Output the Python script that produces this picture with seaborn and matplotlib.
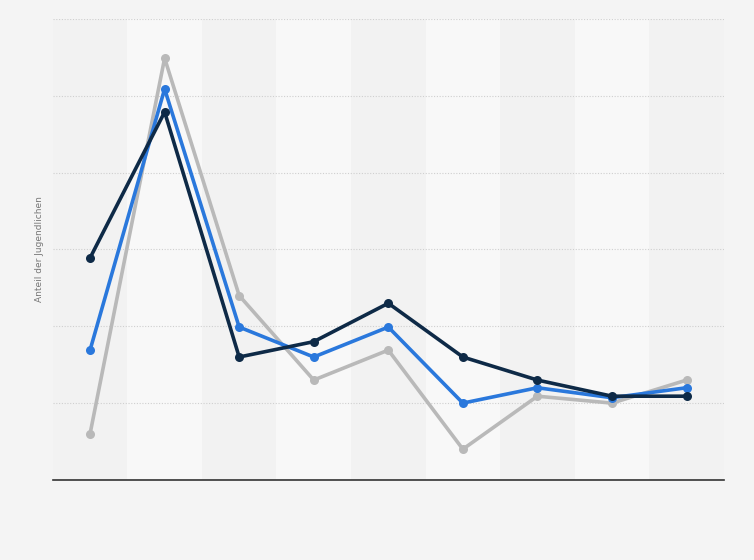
import matplotlib
matplotlib.use("Agg")
import matplotlib.pyplot as plt
import seaborn as sns
import pandas as pd

# category positions (no labels shown in the chart)
categories = list(range(9))

# values (grid unit = 1)
series_navy = [2.89, 4.79, 1.60, 1.80, 2.30, 1.60, 1.30, 1.09, 1.09]
series_blue = [1.69, 5.09, 1.99, 1.60, 1.99, 1.00, 1.20, 1.07, 1.20]
series_gray = [0.60, 5.49, 2.40, 1.30, 1.69, 0.40, 1.09, 1.00, 1.30]

series_names = ["A", "B", "C"]
palette = {"A": "#0e2a47", "B": "#2a78dc", "C": "#b9b9b9"}

y_label = "Anteil der Jugendlichen"
y_ticks = [1, 2, 3, 4, 5, 6]

rows = []
for name, vals in zip(series_names, [series_navy, series_blue, series_gray]):
    for c, v in zip(categories, vals):
        rows.append({"cat": c, "value": v, "series": name})
df = pd.DataFrame(rows)

sns.set_style("white")
fig = plt.figure(figsize=(7.54, 5.6), dpi=100, facecolor="#f4f4f4")
ax = fig.add_axes([0.070, 0.143, 0.890, 0.823])
ax.set_facecolor("#f2f2f2")

# alternating column bands
for c in categories:
    if c % 2 == 1:
        ax.axvspan(c - 0.5, c + 0.5, color="#f8f8f8", zorder=0, lw=0)

for y in y_ticks:
    ax.axhline(y, color="#cfcfcf", lw=0.8, ls=(0, (1, 1.5)), zorder=1)

sns.lineplot(data=df, x="cat", y="value", hue="series", hue_order=["C", "B", "A"],
             palette=palette, marker="o", markersize=6.5, markeredgewidth=0,
             linewidth=2.6, legend=False, ax=ax, zorder=3)

ax.set_xlim(-0.5, 8.5)
ax.set_ylim(0, 6)
ax.set_xticks([])
ax.set_yticks([])
ax.set_xlabel("")
ax.set_ylabel(y_label, fontsize=6.5, color="#777777", labelpad=6)

for s in ["top", "right", "left"]:
    ax.spines[s].set_visible(False)
ax.spines["bottom"].set_color("#333333")
ax.spines["bottom"].set_linewidth(1.2)

fig.savefig("out.png", dpi=100, facecolor=fig.get_facecolor())
